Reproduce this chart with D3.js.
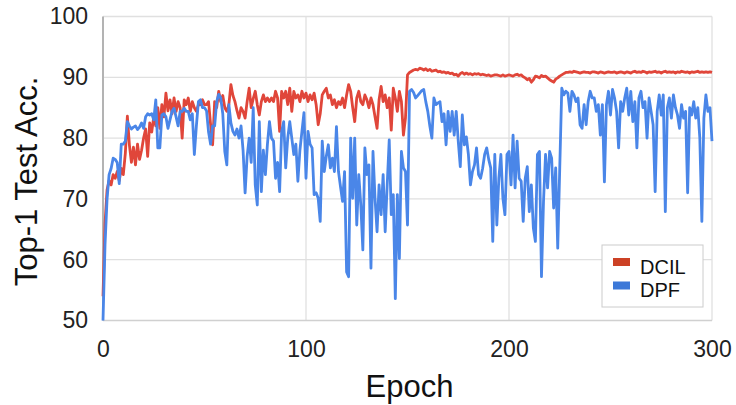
<!DOCTYPE html>
<html>
<head>
<meta charset="utf-8">
<script src="https://cdn.jsdelivr.net/npm/d3@7/dist/d3.min.js"></script>
<style>
    body { margin: 0; background: #fff; }
    svg { display: block; font-family: "Liberation Sans", Arial, sans-serif; }
</style>
</head>
<body>
<div id="chart"></div>
<script>
'use strict';

/* global d3 */

// one value per epoch, 0..300
var DCIL = [
    54, 66, 71.5, 73, 72.3, 74, 73.4, 74.5, 73, 75,
    74, 77.5, 83.6, 78.9, 76, 78.5, 75.6, 79, 76.5, 78,
    80, 81.5, 77, 82.5, 81, 83.5, 82, 85, 81.6, 85.5,
    83.5, 87.4, 84.5, 86.3, 84, 86.6, 84.4, 86, 85, 80,
    86.3, 85.5, 86.6, 84.4, 86, 85, 84.4, 85.5, 85.5, 86.3,
    85.5, 85.5, 86, 82.2, 78.9, 86, 85, 87.7, 86, 87,
    85, 84.4, 85.5, 88.8, 87, 86, 84.5, 83.3, 85, 84.4,
    83.3, 86, 88.2, 85, 86.5, 87.7, 85.5, 83.8, 86, 87.1,
    86, 86.6, 86, 86.6, 86, 87.7, 86.6, 81.1, 87.7, 86.6,
    87.7, 85.5, 88.2, 84.4, 87.7, 86.6, 87.1, 86, 87.7, 86.6,
    87.4, 86, 87.1, 86.3, 87.4, 85.5, 82.2, 84, 87.1, 87.7,
    88.2, 86.6, 87.1, 85.5, 86.3, 85, 86, 85.5, 86.6, 85,
    87.1, 88.8, 87.7, 85, 82.7, 86.6, 87.7, 86, 85.5, 87.1,
    86.3, 85, 86.6, 85.5, 83.5, 81.6, 86.3, 88.5, 86, 87.1,
    85, 86.6, 81.3, 88.2, 86.6, 84.4, 87.7, 86, 80.5, 83.3,
    90.4, 90.8, 91, 91.2, 91.3, 91.2, 91.5, 91.4, 91.2, 91.4,
    91.1, 91.3, 91, 91.1, 91.2, 90.9, 91, 90.8, 90.9, 90.7,
    90.8, 90.6, 90.7, 90.4, 90.5, 90.2, 90.6, 90.8, 90.5, 90.7,
    90.5, 90.6, 90.4, 90.6, 90.5, 90.6, 90.4, 90.5, 90.4, 90.3,
    90.4, 90.2, 90.3, 90.4, 90.4, 90.3, 90.2, 90.4, 90.2, 90.3,
    90.4, 90.3, 90.2, 90.4, 90.5, 90.3, 90.4, 90.1, 89.9, 89.6,
    89.8, 89.2, 89.6, 90.2, 90.1, 89.9, 90.3, 90.1, 90.2, 89.9,
    89.6, 89.4, 89.2, 89.7, 89.9, 90.2, 90.4, 90.6, 90.8, 90.8,
    90.9, 90.8, 91, 90.9, 90.8, 90.7, 90.8, 90.9, 90.8, 90.8,
    90.7, 90.9, 90.9, 90.8, 90.7, 90.9, 90.8, 90.7, 90.8, 90.9,
    90.8, 90.8, 90.9, 90.7, 90.8, 90.9, 90.8, 90.7, 90.9, 90.8,
    90.7, 90.9, 91, 90.8, 90.9, 90.8, 91, 90.9, 90.7, 90.9,
    90.8, 90.9, 91, 90.8, 90.9, 90.7, 90.9, 91, 90.8, 90.9,
    90.8, 90.9, 90.7, 90.9, 90.8, 91, 90.9, 90.8, 90.9, 90.7,
    90.9, 90.8, 90.9, 91, 90.8, 90.9, 90.8, 90.9, 90.8, 90.9,
    90.8
];

var DPF = [
    50, 62.5, 70, 74, 75, 76.7, 76.5, 76, 72.5, 79,
    79, 79.5, 82.7, 82, 81.5, 81.8, 82, 81.4, 81.8, 82.5,
    81.6, 83.5, 84, 83.8, 84, 83, 86.3, 78.4, 78.4, 83.8,
    84, 83.5, 81.6, 83, 84.4, 84.9, 83.5, 82, 84.4, 84.4,
    84.9, 84.4, 84.4, 83, 84, 77.3, 82, 86, 86.3, 85,
    85, 84.5, 81, 79, 82, 82, 86, 87.2, 86.6, 84,
    77.8, 75.6, 85.5, 82.5, 81.1, 80.5, 81.5, 80, 82, 78,
    71, 77, 80, 76, 85, 72.3, 69, 82.7, 71.2, 78,
    74, 79, 82.7, 80, 79.5, 73.4, 76, 71.2, 81.1, 82.7,
    75.1, 80, 82.7, 80, 77.3, 79, 72.9, 78, 81.1, 84.2,
    73.4, 81.1, 79, 78.4, 70.7, 71, 70.1, 66.3, 79.5, 74.5,
    77, 78.9, 75.1, 76.7, 74.5, 81.9, 74.5, 72, 69.6, 74.5,
    58, 57.2, 80, 70.1, 80, 65.7, 74, 69, 61.6, 78.4,
    74, 75.6, 58.6, 77.8, 70.1, 64.6, 72.3, 67.4, 74, 64.6,
    72.3, 79.7, 67.4, 70.7, 53.6, 70.7, 60.2, 77.8, 75.1, 74.5,
    65.7, 87.7, 88, 87.5, 86.6, 87, 87.4, 87.8, 88, 86,
    84.4, 82, 80, 86.6, 85.5, 85.8, 86, 82.7, 84, 78.9,
    84.4, 81.1, 84.4, 80.5, 84.4, 79.5, 75.3, 83.8, 78.9, 80.2,
    77.3, 72.3, 74.5, 75.6, 78.4, 74, 73.4, 75, 77.3, 78.4,
    76.5, 75.1, 63, 77.3, 65.7, 73.4, 77.3, 70.1, 67.4, 77.3,
    77.8, 72.3, 80.5, 71.8, 79.5, 73.4, 72.9, 66.3, 73.4, 75.3,
    67.9, 72.3, 65.2, 63, 77.3, 77.8, 57.2, 69.6, 77.3, 71.8,
    77.8, 76.7, 68.5, 75.1, 61.9, 75.1, 88.2, 87.1, 87.7, 87.4,
    84.4, 87.7, 87.1, 86, 86.6, 82.2, 81.6, 85.5, 82.2, 86,
    87.7, 86.6, 86.6, 84.4, 85.5, 80.5, 85.5, 72.8, 85.5, 87.7,
    83.8, 88, 86.6, 84.4, 78.4, 86, 84.4, 86.6, 88.2, 83.8,
    87.7, 82.7, 86, 78.4, 86.6, 87.7, 85, 86, 80, 86.6,
    84.4, 82.2, 71.2, 84.4, 87.1, 83.8, 87.1, 67.9, 85, 86.6,
    83.3, 87.1, 85, 83.8, 81.6, 85.5, 83.3, 84.4, 71, 85,
    83.8, 86, 83.3, 85, 80, 66.3, 83.3, 87.1, 84.4, 85,
    79.5
];

var SERIES = [
    {name: "DCIL", values: DCIL, line: "#e0463a", swatch: "#cc4125"},
    {name: "DPF", values: DPF, line: "#4a86e8", swatch: "#3c78d8"}
];

var Y_TICKS = [50, 60, 70, 80, 90, 100];
var X_TICKS = [0, 100, 200, 300];

var width = 736, height = 405;
var margin = {top: 16.5, right: 24, bottom: 84.5, left: 103};

var svg = d3.select("#chart").append("svg")
    .attr("width", width)
    .attr("height", height);

var x = d3.scaleLinear().domain([0, 300]).range([margin.left, width - margin.right]);
var y = d3.scaleLinear().domain([50, 100]).range([height - margin.bottom, margin.top]);

// grid
svg.append("g").selectAll("line.h")
    .data(Y_TICKS.slice(1))
    .enter().append("line")
    .attr("class", "h")
    .attr("x1", x(0)).attr("x2", x(300))
    .attr("y1", function (d) { return y(d); })
    .attr("y2", function (d) { return y(d); })
    .style("stroke", "#e0e0e0")
    .style("stroke-width", 1.3);

svg.append("g").selectAll("line.v")
    .data(X_TICKS.slice(1))
    .enter().append("line")
    .attr("class", "v")
    .attr("y1", y(50)).attr("y2", y(100))
    .attr("x1", function (d) { return x(d); })
    .attr("x2", function (d) { return x(d); })
    .style("stroke", "#e0e0e0")
    .style("stroke-width", 1.3);

svg.append("line")
    .attr("x1", x(0)).attr("x2", x(300))
    .attr("y1", y(50)).attr("y2", y(50))
    .style("stroke", "#d0d0d0")
    .style("stroke-width", 1.3);

svg.append("line")
    .attr("x1", x(0)).attr("x2", x(0))
    .attr("y1", y(50)).attr("y2", y(100))
    .style("stroke", "#b3b3b3")
    .style("stroke-width", 2);

// axes labels
var yAxis = svg.append("g")
    .attr("transform", "translate(" + x(0) + ",0)")
    .call(d3.axisLeft(y).tickValues(Y_TICKS).tickSize(0).tickPadding(15));

var xAxis = svg.append("g")
    .attr("transform", "translate(0," + y(50) + ")")
    .call(d3.axisBottom(x).tickValues(X_TICKS).tickSize(0).tickPadding(20));

[yAxis, xAxis].forEach(function (g) {
    g.select(".domain").remove();
    g.selectAll("text")
        .style("font-family", "'Liberation Sans', Arial, sans-serif")
        .style("font-size", "23px")
        .style("fill", "#222");
});

svg.append("text")
    .attr("x", (x(0) + x(300)) / 2 + 2)
    .attr("y", 397)
    .attr("text-anchor", "middle")
    .style("font-size", "31px")
    .style("fill", "#111")
    .text("Epoch");

svg.append("text")
    .attr("transform", "translate(37," + 181.5 + ") rotate(-90)")
    .attr("text-anchor", "middle")
    .style("font-size", "31px")
    .style("fill", "#111")
    .text("Top-1 Test Acc.");

// lines
var line = d3.line()
    .x(function (d, i) { return x(i); })
    .y(function (d) { return y(d); })
    .curve(d3.curveLinear);

svg.append("g").selectAll("path.series")
    .data(SERIES)
    .enter().append("path")
    .attr("class", "series")
    .attr("d", function (d) { return line(d.values); })
    .style("fill", "none")
    .style("stroke", function (d) { return d.line; })
    .style("stroke-width", 2.8)
    .style("stroke-linejoin", "round");

// legend
var gLegend = svg.append("g").attr("transform", "translate(602,245)");

gLegend.append("rect")
    .attr("width", 101)
    .attr("height", 62)
    .style("fill", "#fff")
    .style("stroke", "#cccccc")
    .style("stroke-width", 1);

var gItem = gLegend.selectAll("g.item")
    .data(SERIES)
    .enter().append("g")
    .attr("class", "item")
    .attr("transform", function (d, i) { return "translate(0," + (i * 23.5) + ")"; });

gItem.append("rect")
    .attr("x", 11)
    .attr("y", 13)
    .attr("width", 17)
    .attr("height", 8)
    .style("fill", function (d) { return d.swatch; });

gItem.append("text")
    .attr("x", 38)
    .attr("y", 28.5)
    .style("font-size", "20px")
    .style("fill", "#111")
    .text(function (d) { return d.name; });
</script>
</body>
</html>
